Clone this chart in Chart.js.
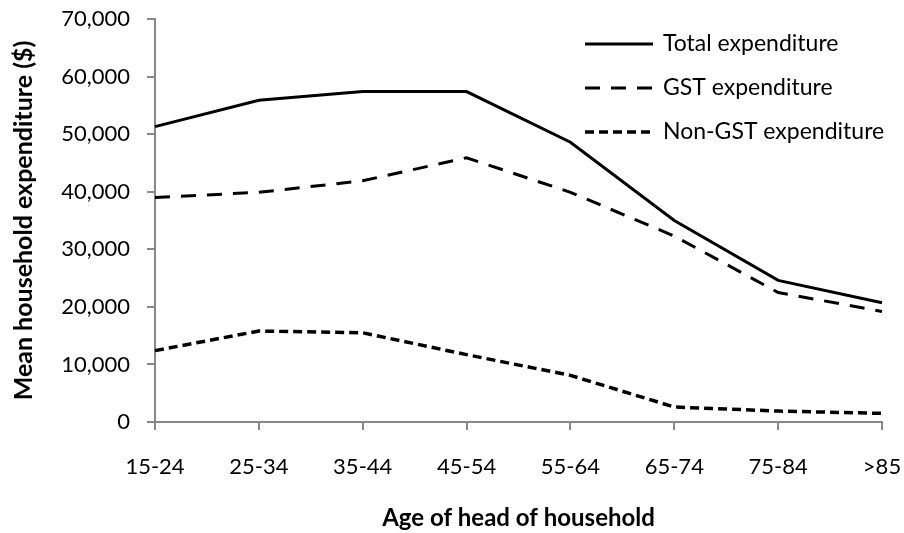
<!DOCTYPE html>
<html>
<head>
<meta charset="utf-8">
<script src="https://cdn.jsdelivr.net/npm/chart.js@4.4.1/dist/chart.umd.min.js"></script>
<style>
  html, body { margin: 0; padding: 0; background: #fff; }
  #wrap { width: 904px; height: 533px; position: relative; }
</style>
</head>
<body>
<div id="wrap"><canvas id="chart"></canvas></div>
<script>
const ageGroups = ['15-24', '25-34', '35-44', '45-54', '55-64', '65-74', '75-84', '>85'];
const totalExp = [51300, 55900, 57400, 57400, 48600, 35000, 24600, 20700];
const gstExp = [39000, 39900, 41900, 45900, 39900, 32300, 22500, 19200];
const nonGstExp = [12400, 15800, 15500, 11700, 8100, 2600, 1900, 1500];
const yTicks = [0, 10000, 20000, 30000, 40000, 50000, 60000, 70000];

const fontFamily = 'Lato, "Open Sans", sans-serif';
const axisGray = '#888888';

// legend drawn inside the plot, top right, like the original
const insideLegend = {
    id: 'insideLegend',
    afterDraw(chart) {
        const ctx = chart.ctx;
        const x0 = 585, lineLen = 68, textX = 663;
        const rows = [44, 88, 132];
        ctx.save();
        chart.data.datasets.forEach((ds, i) => {
            const y = rows[i];
            ctx.beginPath();
            ctx.setLineDash(ds.borderDash || []);
            ctx.lineWidth = ds.borderWidth;
            ctx.strokeStyle = ds.borderColor;
            ctx.moveTo(x0, y);
            ctx.lineTo(x0 + lineLen, y);
            ctx.stroke();
            ctx.setLineDash([]);
            ctx.fillStyle = '#000';
            ctx.font = '23px ' + fontFamily;
            ctx.textBaseline = 'middle';
            ctx.fillText(ds.label, textX, y);
        });
        ctx.restore();
    }
};

new Chart(document.getElementById('chart'), {
    type: 'line',
    data: {
        labels: ageGroups,
        datasets: [
            { label: 'Total expenditure', data: totalExp, borderColor: '#000', borderWidth: 3, pointRadius: 0, tension: 0 },
            { label: 'GST expenditure', data: gstExp, borderColor: '#000', borderWidth: 3, borderDash: [15, 11], pointRadius: 0, tension: 0 },
            { label: 'Non-GST expenditure', data: nonGstExp, borderColor: '#000', borderWidth: 3.5, borderDash: [9, 5], pointRadius: 0, tension: 0 }
        ]
    },
    options: {
        responsive: true,
        maintainAspectRatio: false,
        animation: false,
        layout: { padding: { top: 19, right: 22, bottom: 0, left: 0 } },
        plugins: {
            legend: { display: false },
            tooltip: { enabled: false }
        },
        scales: {
            x: {
                offset: false,
                afterFit: axis => {
                    axis.height = 111;
                    axis.paddingLeft = 0;
                    axis.paddingRight = 0;
                },
                grid: { display: true, drawOnChartArea: false, drawTicks: true, tickLength: 8, color: axisGray, lineWidth: 2, offset: false },
                border: { color: axisGray, width: 2 },
                ticks: { color: '#000', font: { family: fontFamily, size: 22 }, padding: 24, maxRotation: 0, autoSkip: false },
                title: { display: true, text: 'Age of head of household', color: '#000', font: { family: fontFamily, size: 24, weight: 'bold' }, padding: { top: 0, bottom: 0 } }
            },
            y: {
                min: 0,
                max: 70000,
                afterFit: axis => {
                    axis.width = 155;
                    axis.paddingTop = 0;
                    axis.paddingBottom = 0;
                },
                afterBuildTicks: axis => { axis.ticks = yTicks.map(v => ({ value: v })); },
                grid: { display: true, drawOnChartArea: false, drawTicks: true, tickLength: 8, color: axisGray, lineWidth: 2 },
                border: { color: axisGray, width: 2 },
                ticks: {
                    color: '#000',
                    font: { family: fontFamily, size: 22 },
                    padding: 17,
                    callback: v => v.toLocaleString('en-US')
                },
                title: { display: true, text: 'Mean household expenditure ($)', color: '#000', font: { family: fontFamily, size: 25, weight: 'bold' }, padding: { top: 9, bottom: 0 } }
            }
        }
    },
    plugins: [insideLegend]
});
</script>
</body>
</html>
